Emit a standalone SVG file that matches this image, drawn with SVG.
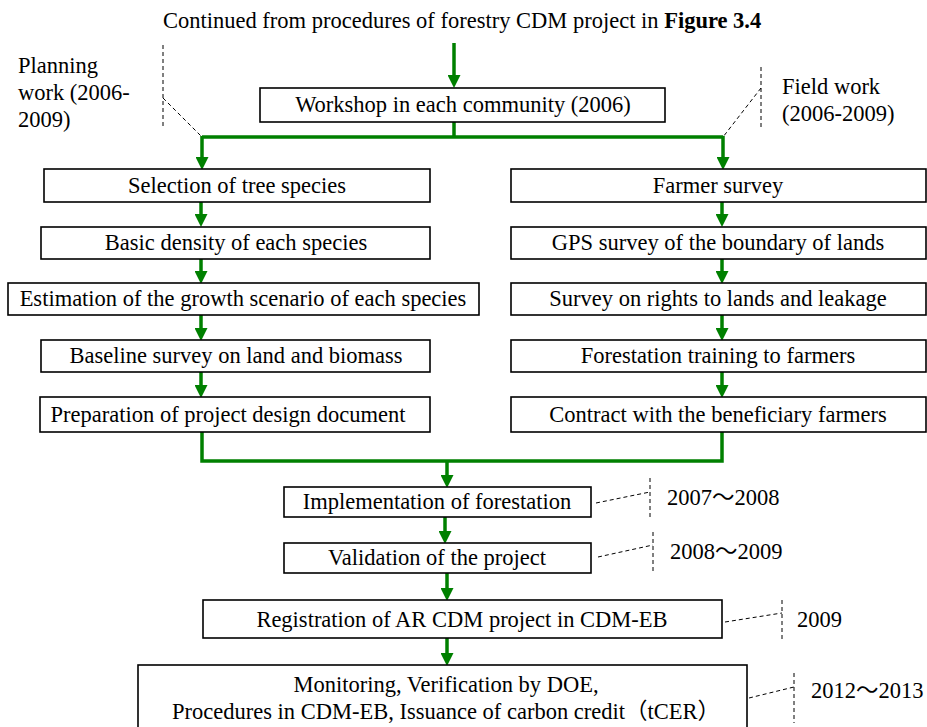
<svg xmlns="http://www.w3.org/2000/svg" width="927" height="727" viewBox="0 0 927 727">
<defs>
<marker id="ah" markerUnits="userSpaceOnUse" markerWidth="13" markerHeight="13" refX="0" refY="6.5" orient="auto">
<path d="M0,0 L13,6.5 L0,13 z" fill="#008000"/>
</marker>
<style>
text{font-family:"Liberation Serif","Noto Sans CJK JP",serif;font-size:22.5px;fill:#000}
.c{text-anchor:middle}
.box{fill:#fff;stroke:#000;stroke-width:1.6}
.g{fill:none;stroke:#008000;stroke-width:3.5}
.a{fill:none;stroke:#008000;stroke-width:3.5;marker-end:url(#ah)}
.d{fill:none;stroke:#000;stroke-width:1;stroke-dasharray:4 3}
</style>
</defs>
<rect width="927" height="727" fill="#fff"/>
<text x="163" y="28">Continued from procedures of forestry CDM project in <tspan font-weight="bold">Figure 3.4</tspan></text>

<g id="connectors">
<path class="a" d="M454,43 V75"/>
<path class="g" d="M454,122 V137 M202,137 H723"/>
<path class="a" d="M202,136 V157"/>
<path class="a" d="M723,136 V157"/>
<path class="a" d="M201,202 V214"/>
<path class="a" d="M201,259 V271"/>
<path class="a" d="M201,315 V328"/>
<path class="a" d="M201,372 V385"/>
<path class="a" d="M722,202 V214"/>
<path class="a" d="M722,259 V271"/>
<path class="a" d="M722,315 V328"/>
<path class="a" d="M722,372 V385"/>
<path class="g" d="M202,432 V461 H722 V432"/>
<path class="a" d="M447,461 V475"/>
<path class="a" d="M445,517 V531"/>
<path class="a" d="M447,573 V588"/>
<path class="a" d="M447,638 V653"/>
</g>

<g id="annotations">
<path class="d" d="M163,45 V128 M163,98 L202,137"/>
<path class="d" d="M761,67 V128 M761,88 L723,137"/>
<path class="d" d="M596,503 L650,492 M650,478 V518"/>
<path class="d" d="M598,557 L653,545 M653,532 V572"/>
<path class="d" d="M725,622 L782,613 M782,600 V640"/>
<path class="d" d="M749,698 L794,687 M794,673 V723"/>
<text x="18" y="73">Planning</text>
<text x="18" y="100">work (2006-</text>
<text x="18" y="127">2009)</text>
<text x="782" y="94">Field work</text>
<text x="782" y="121">(2006-2009)</text>
<text x="667" y="505">2007～2008</text>
<text x="670" y="559">2008～2009</text>
<text x="797" y="627">2009</text>
<text x="811" y="698">2012～2013</text>
</g>

<g id="workshop"><rect class="box" x="260" y="88" width="405" height="34"/><text class="c" x="463" y="112">Workshop in each community (2006)</text></g>

<g id="selection"><rect class="box" x="44" y="169" width="386" height="33"/><text class="c" x="237" y="193">Selection of tree species</text></g>
<g id="density"><rect class="box" x="41" y="227" width="389" height="32"/><text class="c" x="236" y="250">Basic density of each species</text></g>
<g id="estimation"><rect class="box" x="8" y="283" width="471" height="32"/><text class="c" x="243" y="306">Estimation of the growth scenario of each species</text></g>
<g id="baseline"><rect class="box" x="41" y="340" width="389" height="32"/><text class="c" x="236" y="363">Baseline survey on land and biomass</text></g>
<g id="preparation"><rect class="box" x="40" y="397" width="390" height="35"/><text class="c" x="228" y="422">Preparation of project design document</text></g>

<g id="farmer"><rect class="box" x="511" y="169" width="415" height="33"/><text class="c" x="718" y="193">Farmer survey</text></g>
<g id="gps"><rect class="box" x="511" y="227" width="415" height="32"/><text class="c" x="718" y="250">GPS survey of the boundary of lands</text></g>
<g id="rights"><rect class="box" x="511" y="283" width="415" height="32"/><text class="c" x="718" y="306">Survey on rights to lands and leakage</text></g>
<g id="training"><rect class="box" x="511" y="340" width="415" height="32"/><text class="c" x="718" y="363">Forestation training to farmers</text></g>
<g id="contract"><rect class="box" x="511" y="397" width="415" height="35"/><text class="c" x="718" y="422">Contract with the beneficiary farmers</text></g>

<g id="implementation"><rect class="box" x="284" y="487" width="307" height="30"/><text class="c" x="437" y="509">Implementation of forestation</text></g>
<g id="validation"><rect class="box" x="284" y="543" width="307" height="30"/><text class="c" x="437" y="565">Validation of the project</text></g>
<g id="registration"><rect class="box" x="203" y="600" width="519" height="38"/><text class="c" x="462" y="627">Registration of AR CDM project in CDM-EB</text></g>
<g id="monitoring"><rect class="box" x="138" y="665" width="609" height="70"/><text class="c" x="446" y="692">Monitoring, Verification by DOE,</text><text class="c" x="446" y="719">Procedures in CDM-EB, Issuance of carbon credit（tCER）</text></g>
</svg>
